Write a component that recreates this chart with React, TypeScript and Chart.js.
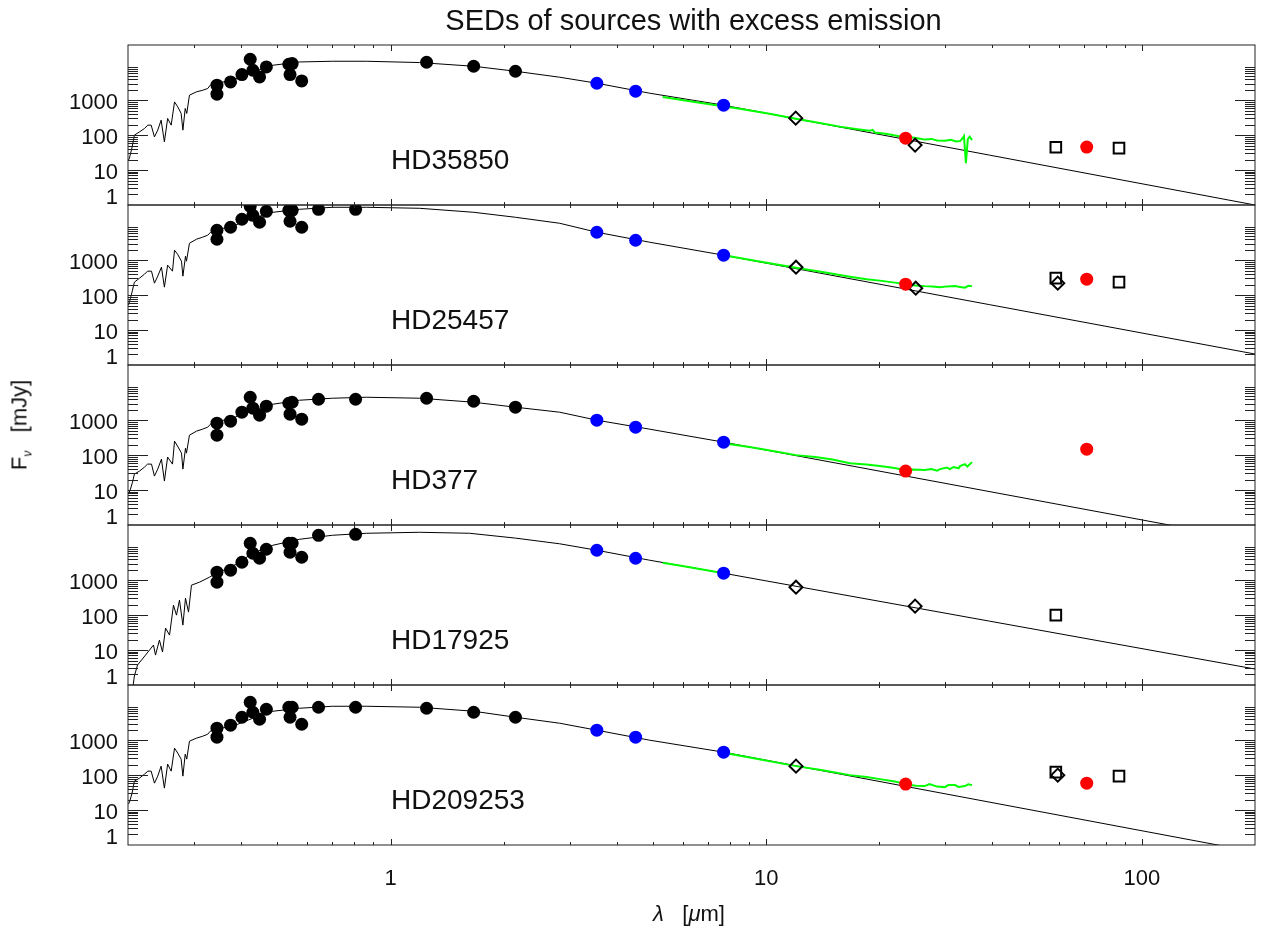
import React, { useEffect, useRef } from 'react';
import { Chart, registerables } from 'chart.js';
Chart.register(...registerables);

const FONT = "'Liberation Sans', Arial, Helvetica, sans-serif";
const W = 1262, H = 930;
const PLOT_LEFT = 128, PLOT_RIGHT = 1255, PANEL_TOP = 45, PANEL_H = 160;

const X_MIN = 0.2, X_MAX = 200;
const Y_MIN = 1, Y_MAX = 38000;
const X_TICK_VALUES = [1, 10, 100];
const X_TICK_LABELS = ['1', '10', '100'];
const Y_TICK_VALUES = [2, 10, 100, 1000];
const Y_TICK_LABELS = ['1', '10', '100', '1000'];

const PANEL_NAMES = ['HD35850', 'HD25457', 'HD377', 'HD17925', 'HD209253'];

// wavelengths (micron)
const OPT_WL = [0.345, 0.345, 0.375, 0.402, 0.423, 0.43, 0.448, 0.467, 0.536, 0.547, 0.54, 0.58];
const RI_WL = [0.643, 0.807];
const JHK_WL = [1.247, 1.664, 2.15];
const IRAC_WL = [3.54, 4.49, 7.7];
const MIPS_WL = [23.5, 71.3];

// ---- HD35850 ----
const P1_OPT = [2683, 1484, 3334, 5423, 14840, 7197, 4632, 8940, 10680, 11190, 5423, 3559];
const P1_JHK = [12180, 9360, 6740];
const P1_IRAC = [3060, 1808, 720];
const P1_MIPS = [82, 45.4];
const P1_DIAMONDS = [[11.98, 306], [24.9, 51.8]];
const P1_SQUARES = [[59, 45], [86.9, 42.5]];
const P1_IRS = [[5.3, 1243], [6.65, 849], [8.5, 572], [10.2, 410], [11.98, 296], [14.0, 220], [15.7, 175], [17.5, 148], [18.86, 134], [19.2, 142], [19.45, 118], [21.0, 108], [23.5, 85], [24.5, 86], [25.5, 80], [26.4, 74.4], [27.5, 78], [28.5, 70], [29.9, 69.6], [31, 74], [32.0, 66], [32.8, 67.4], [33.3, 80], [33.6, 93.8], [34.0, 15.8], [34.4, 76.8], [34.8, 90], [35.3, 71.9]];
const P1_MODEL = [[0.2006, 19.3], [0.2018, 22], [0.2051, 45.4], [0.208, 100], [0.2146, 124], [0.2213, 155], [0.2258, 193], [0.2305, 193], [0.2352, 89], [0.24, 139], [0.245, 268], [0.25, 64], [0.255, 300], [0.2606, 193], [0.266, 894], [0.2714, 644], [0.277, 417], [0.28, 139], [0.284, 580], [0.2867, 417], [0.2915, 1390], [0.304, 1727], [0.3163, 1931], [0.326, 2160], [0.331, 2683], [0.34, 3000], [0.38, 3728], [0.43, 6440], [0.486, 10000], [0.572, 12420], [0.7, 13010], [0.862, 13010], [1.195, 11940], [1.664, 9360], [2.15, 6740], [2.82, 4540], [3.54, 3060], [4.895, 1585], [7.7, 720], [200, 1]];

// ---- HD25457 ----
const P2_OPT = [7197, 3981, 8770, 14840, 34900, 19300, 12180, 25120, 26830, 26830, 13010, 8770];
const P2_RI = [28650, 28650];
const P2_IRAC = [6310, 3728, 1390];
const P2_MIPS = [206, 287];
const P2_DIAMONDS = [[12, 631], [25, 158], [59.7, 220]];
const P2_SQUARES = [[59, 306], [86.9, 235]];
const P2_IRS = [[7.85, 1345], [9.5, 930], [12, 611], [14.5, 440], [16.7, 338], [18.5, 285], [20.06, 260], [22, 228], [23.5, 206], [25, 190], [26.4, 181], [27.7, 176], [29, 169], [30.3, 178], [31.8, 181], [32.8, 172], [33.8, 164], [34.5, 184], [35.3, 181]];
const P2_MODEL = [[0.2006, 51.8], [0.2031, 82], [0.2056, 139], [0.208, 235], [0.2146, 306], [0.2213, 398], [0.2254, 485], [0.231, 485], [0.2352, 220], [0.24, 349], [0.2455, 631], [0.25, 169], [0.255, 720], [0.2627, 485], [0.266, 1931], [0.271, 1484], [0.2776, 936], [0.28, 349], [0.2845, 1301], [0.2862, 936], [0.2915, 3060], [0.3043, 3981], [0.3157, 4540], [0.326, 5180], [0.3317, 6310], [0.34, 7197], [0.3795, 9360], [0.43, 15850], [0.486, 23500], [0.572, 28650], [0.7, 32680], [0.862, 32680], [1.195, 30600], [1.664, 23500], [2.15, 16930], [2.82, 11400], [3.54, 6310], [4.895, 3268], [7.7, 1390], [200, 2.06]];

// ---- HD377 ----
const P3_OPT = [821, 373, 936, 1693, 4540, 2203, 1390, 2512, 3060, 3268, 1484, 1068];
const P3_RI = [3981, 3981];
const P3_JHK = [4253, 3490, 2352];
const P3_IRAC = [1000, 631, 235];
const P3_MIPS = [34.9, 148];
const P3_IRS = [[7.7, 220], [9.2, 165], [10.5, 130], [12, 100], [13.5, 88], [15, 75], [16.7, 59], [18.5, 54], [20.06, 48.5], [21.5, 44], [23.5, 37.3], [24.5, 38.5], [26.4, 37.3], [27.5, 40], [28.5, 36], [29, 39.8], [30.3, 44], [30.8, 40], [31.5, 45.4], [32.5, 42], [32.8, 48.5], [33.8, 55.3], [34.3, 47], [35.3, 63.1]];
const P3_MODEL = [[0.2006, 7.69], [0.2031, 10.7], [0.2056, 16.9], [0.208, 28.7], [0.2146, 34.9], [0.2213, 45.4], [0.2254, 55.3], [0.231, 55.3], [0.2352, 25.1], [0.24, 39.8], [0.2455, 76.8], [0.25, 18.1], [0.255, 87.7], [0.2627, 55.3], [0.266, 251], [0.271, 181], [0.2776, 114], [0.28, 39.8], [0.2845, 158], [0.2862, 114], [0.2915, 373], [0.3043, 485], [0.3157, 553], [0.326, 631], [0.3317, 769], [0.34, 877], [0.3795, 1141], [0.43, 1931], [0.486, 2865], [0.572, 3728], [0.7, 4253], [0.862, 4540], [1.195, 4253], [1.664, 3268], [2.15, 2352], [2.82, 1693], [3.54, 1000], [4.895, 553], [7.7, 235], [200, 0.35]];

// ---- HD17925 ----
const P4_OPT = [1693, 877, 1931, 3268, 11400, 5910, 4253, 7690, 11400, 11400, 6310, 4540];
const P4_RI = [19300, 20600];
const P4_IRAC = [7197, 4253, 1585];
const P4_DIAMONDS = [[12, 631], [24.9, 181]];
const P4_SQUARES = [[59, 100]];
const P4_IRS = [[5.3, 3162], [6.256, 2352], [7.07, 1868], [7.7, 1585]];
const P4_MODEL = [[0.2056, 0.72], [0.208, 1.81], [0.212, 3.73], [0.2173, 5.18], [0.2227, 7.2], [0.2282, 10], [0.2338, 13.9], [0.2367, 7.2], [0.2425, 19.3], [0.2471, 8.77], [0.2518, 42.5], [0.258, 26.8], [0.2643, 193], [0.2692, 100], [0.2742, 268], [0.28, 51.8], [0.2845, 306], [0.2898, 122], [0.2951, 720], [0.3099, 877], [0.3296, 1218], [0.34, 1484], [0.3795, 2512], [0.43, 5910], [0.486, 10000], [0.572, 14840], [0.7, 19300], [0.862, 22030], [1.195, 23500], [1.623, 22030], [2.15, 16000], [2.82, 11000], [3.54, 7197], [4.895, 3728], [7.7, 1585], [200, 2.87]];

// ---- HD209253 ----
const P5_OPT = [2203, 1218, 2683, 4540, 12180, 6310, 3981, 7690, 8770, 8770, 4540, 2865];
const P5_RI = [8770, 8770];
const P5_JHK = [8210, 6310, 4540];
const P5_IRAC = [1931, 1218, 454];
const P5_MIPS = [55.3, 59];
const P5_DIAMONDS = [[12, 181], [59.7, 100]];
const P5_SQUARES = [[59, 122], [86.9, 93.6]];
const P5_IRS = [[7.7, 439], [9.5, 290], [12, 181], [14, 140], [16.7, 100], [18.5, 88], [20.06, 76.8], [22, 66], [23.5, 55.3], [25, 50], [26.4, 48.5], [27.2, 55.3], [28.5, 47], [29.9, 45.4], [30.5, 52], [31.8, 51.8], [32.5, 46], [33.8, 48.5], [34.5, 55], [35.3, 51.8]];
const P5_MODEL = [[0.2006, 14.8], [0.2018, 16.9], [0.2051, 30.6], [0.208, 67.4], [0.2146, 82], [0.2213, 107], [0.2258, 130], [0.2305, 130], [0.2352, 59], [0.24, 93.6], [0.245, 181], [0.25, 42.5], [0.255, 206], [0.2606, 130], [0.266, 591], [0.2714, 425], [0.277, 287], [0.28, 93.6], [0.284, 398], [0.2867, 287], [0.2915, 936], [0.304, 1141], [0.3163, 1301], [0.326, 1484], [0.331, 1808], [0.34, 2061], [0.38, 2512], [0.43, 4253], [0.486, 6740], [0.572, 8210], [0.7, 9360], [0.862, 9360], [1.195, 8770], [1.664, 6740], [2.15, 4540], [2.82, 3060], [3.54, 1931], [4.895, 1000], [7.7, 454], [200, 0.63]];

type Pair = number[];
const zip = (xs: number[], ys: number[]) => ys.map((y, i) => ({ x: xs[i], y }));
const pairs = (a: Pair[]) => a.map(([x, y]) => ({ x, y }));

const PANELS = [
  { black: [...zip(OPT_WL, P1_OPT), ...zip(JHK_WL, P1_JHK)], irac: zip(IRAC_WL, P1_IRAC), mips: zip(MIPS_WL, P1_MIPS), diamonds: pairs(P1_DIAMONDS), squares: pairs(P1_SQUARES), irs: pairs(P1_IRS), model: pairs(P1_MODEL) },
  { black: [...zip(OPT_WL, P2_OPT), ...zip(RI_WL, P2_RI)], irac: zip(IRAC_WL, P2_IRAC), mips: zip(MIPS_WL, P2_MIPS), diamonds: pairs(P2_DIAMONDS), squares: pairs(P2_SQUARES), irs: pairs(P2_IRS), model: pairs(P2_MODEL) },
  { black: [...zip(OPT_WL, P3_OPT), ...zip(RI_WL, P3_RI), ...zip(JHK_WL, P3_JHK)], irac: zip(IRAC_WL, P3_IRAC), mips: zip(MIPS_WL, P3_MIPS), diamonds: [], squares: [], irs: pairs(P3_IRS), model: pairs(P3_MODEL) },
  { black: [...zip(OPT_WL, P4_OPT), ...zip(RI_WL, P4_RI)], irac: zip(IRAC_WL, P4_IRAC), mips: [], diamonds: pairs(P4_DIAMONDS), squares: pairs(P4_SQUARES), irs: pairs(P4_IRS), model: pairs(P4_MODEL) },
  { black: [...zip(OPT_WL, P5_OPT), ...zip(RI_WL, P5_RI), ...zip(JHK_WL, P5_JHK)], irac: zip(IRAC_WL, P5_IRAC), mips: zip(MIPS_WL, P5_MIPS), diamonds: pairs(P5_DIAMONDS), squares: pairs(P5_SQUARES), irs: pairs(P5_IRS), model: pairs(P5_MODEL) },
];

const idlAxes = {
  id: 'idlAxes',
  afterDraw(chart: any) {
    const { ctx, chartArea: a } = chart;
    const xs = chart.scales.x, ys = chart.scales.y;
    ctx.save();
    ctx.strokeStyle = '#222';
    ctx.lineWidth = 1;
    ctx.beginPath();
    for (let d = -1; d <= 2; d++) {
      for (let k = 1; k <= 9; k++) {
        const v = k * Math.pow(10, d);
        if (v <= X_MIN * 1.001 || v >= X_MAX * 0.999) continue;
        const px = Math.round(xs.getPixelForValue(v)) + 0.5;
        const len = k === 1 ? 6 : 3;
        ctx.moveTo(px, a.bottom); ctx.lineTo(px, a.bottom - len);
        ctx.moveTo(px, a.top); ctx.lineTo(px, a.top + len);
      }
    }
    for (let d = 0; d <= 3; d++) {
      for (let k = 1; k <= 9; k++) {
        const v = k * Math.pow(10, d);
        if (v <= Y_MIN * 1.001 || v >= Y_MAX) continue;
        const py = Math.round(ys.getPixelForValue(v)) + 0.5;
        const len = k === 1 ? 20 : 10;
        ctx.moveTo(a.left, py); ctx.lineTo(a.left + len, py);
        ctx.moveTo(a.right, py); ctx.lineTo(a.right - len, py);
      }
    }
    ctx.stroke();
    ctx.strokeRect(a.left, a.top, a.right - a.left, a.bottom - a.top);
    ctx.restore();
  },
};

function buildConfig(p: any, i: number): any {
  const top = PANEL_TOP + i * PANEL_H;
  const bottom = top + PANEL_H;
  const isLast = i === PANELS.length - 1;
  const base = { showLine: false, clip: 0, pointBorderWidth: 0, pointHoverRadius: 0 };
  const datasets: any[] = [
    { ...base, data: p.black, pointRadius: 6.5, pointBackgroundColor: '#000' },
    { ...base, data: p.irac, pointRadius: 6.5, pointBackgroundColor: '#0000ff' },
    { ...base, data: p.mips, pointRadius: 6.5, pointBackgroundColor: '#ff0000' },
    { ...base, data: p.diamonds, pointStyle: 'rectRot', pointRadius: 6.5, pointBackgroundColor: 'rgba(0,0,0,0)', pointBorderColor: '#000', pointBorderWidth: 2 },
    { ...base, data: p.squares, pointStyle: 'rect', pointRadius: 7.5, pointBackgroundColor: 'rgba(0,0,0,0)', pointBorderColor: '#000', pointBorderWidth: 2 },
    { ...base, data: p.irs, showLine: true, borderColor: '#00ff00', borderWidth: 2, pointRadius: 0, tension: 0 },
    { ...base, data: p.model, showLine: true, borderColor: '#000', borderWidth: 1, pointRadius: 0, tension: 0 },
  ];
  const tickFont = { family: FONT, size: 22 };
  return {
    type: 'scatter',
    data: { datasets },
    options: {
      responsive: false,
      animation: false,
      events: [],
      layout: { autoPadding: false, padding: { left: 0, right: W - PLOT_RIGHT, top, bottom: isLast ? 0 : H - bottom } },
      plugins: { legend: { display: false }, tooltip: { enabled: false }, title: { display: false } },
      scales: {
        x: {
          type: 'logarithmic', min: X_MIN, max: X_MAX, display: isLast,
          grid: { display: false, drawTicks: false }, border: { display: false },
          afterBuildTicks: (s: any) => { s.ticks = X_TICK_VALUES.map((v) => ({ value: v })); },
          afterFit: (s: any) => { if (isLast) s.height = H - bottom; },
          ticks: {
            autoSkip: false, maxRotation: 0, padding: 21, color: '#111', font: tickFont,
            callback: (_v: any, idx: number) => X_TICK_LABELS[idx] ?? '',
          },
        },
        y: {
          type: 'logarithmic', min: Y_MIN, max: Y_MAX, position: 'left',
          grid: { display: false, drawTicks: false }, border: { display: false },
          afterBuildTicks: (s: any) => { s.ticks = Y_TICK_VALUES.map((v) => ({ value: v })); },
          afterFit: (s: any) => { s.width = PLOT_LEFT; },
          ticks: {
            autoSkip: false, padding: 10, labelOffset: 3, color: '#111', font: tickFont,
            callback: (_v: any, idx: number) => Y_TICK_LABELS[idx] ?? '',
          },
        },
      },
    },
    plugins: [idlAxes],
  };
}

export default function App() {
  const refs = useRef<(HTMLCanvasElement | null)[]>([]);
  useEffect(() => {
    const charts = PANELS.map((p, i) => new Chart(refs.current[i] as HTMLCanvasElement, buildConfig(p, i)));
    return () => charts.forEach((c) => c.destroy());
  }, []);
  return (
    <div style={{ position: 'absolute', left: 0, top: 0, width: W, height: H, background: '#fff', overflow: 'hidden', fontFamily: FONT, color: '#111' }}>
      {PANELS.map((_, i) => (
        <canvas key={i} ref={(el) => { refs.current[i] = el; }} width={W} height={H} style={{ position: 'absolute', left: 0, top: 0 }} />
      ))}
      <div style={{ position: 'absolute', left: PLOT_LEFT + 2, width: PLOT_RIGHT - PLOT_LEFT, top: 6, textAlign: 'center', fontSize: 29, lineHeight: '29px', whiteSpace: 'nowrap' }}>
        SEDs of sources with excess emission
      </div>
      {PANEL_NAMES.map((n, i) => (
        <div key={n} style={{ position: 'absolute', left: 391, top: PANEL_TOP + i * PANEL_H + 101, fontSize: 28, lineHeight: '28px', whiteSpace: 'nowrap' }}>{n}</div>
      ))}
      <div style={{ position: 'absolute', left: 21, top: 425, transform: 'translate(-50%, -50%) rotate(-90deg)', fontSize: 22, lineHeight: '22px', whiteSpace: 'nowrap' }}>
        F<span style={{ fontSize: 12, position: 'relative', top: 5 }}><i>ν</i></span>{'\u00a0\u00a0\u00a0'}[mJy]
      </div>
      <div style={{ position: 'absolute', left: 589, width: 200, top: 903, textAlign: 'center', fontSize: 22, lineHeight: '22px', whiteSpace: 'nowrap' }}>
        <i>λ</i>{'\u00a0\u00a0\u00a0'}[<i>μ</i>m]
      </div>
    </div>
  );
}
